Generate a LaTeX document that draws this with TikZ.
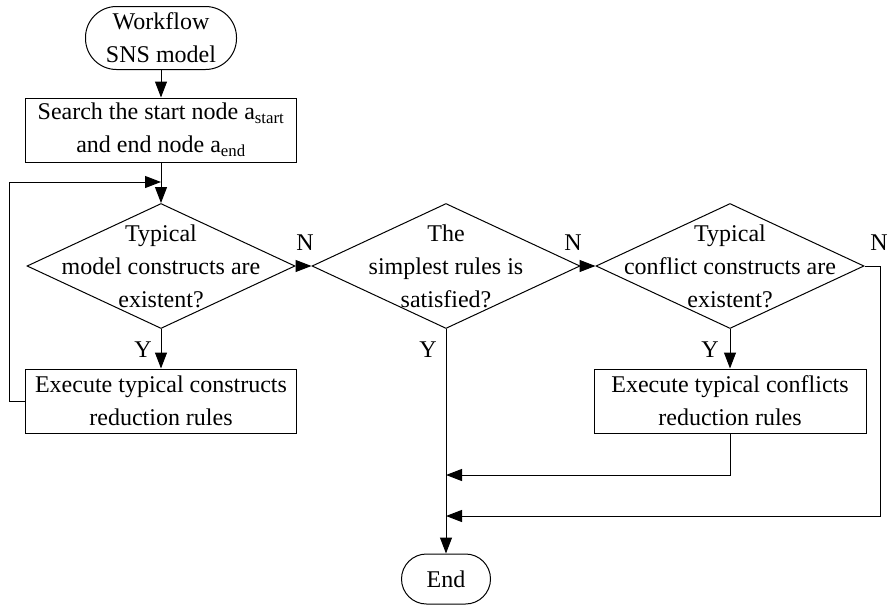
\documentclass[tikz,border=0pt]{standalone}
\usepackage{fontspec}
\setmainfont{Liberation Serif}
\usetikzlibrary{shapes.geometric,arrows.meta}
\begin{document}
\begin{tikzpicture}[x=1pt,y=-1pt,
  font=\fontsize{24}{33}\selectfont,
  line width=1pt,
  box/.style={draw, minimum width=271pt, minimum height=64pt, align=center, inner sep=0pt},
  term/.style={draw, align=center, inner sep=0pt},
  dia/.style={draw, diamond, minimum width=268pt, minimum height=125pt, inner sep=0pt},
  txt/.style={align=center, inner sep=0pt},
  arr/.style={-{Triangle[length=16pt,width=12pt]}},
  lbl/.style={inner sep=0pt}]
\useasboundingbox (0,0) rectangle (888,605);

\node[term, minimum width=151pt, minimum height=63pt, rounded corners=31pt] (start) at (161,38) {Workflow\\SNS model};
\node[box] (b1) at (161,130) {Search the start node a\textsubscript{start}\\and end node a\textsubscript{end}};
\node[dia] (d1) at (161,266) {};
\node[txt] (t1) at (161,266) {Typical\\model constructs are\\existent?};
\node[box] (b2) at (161,401) {Execute typical constructs\\reduction rules};

\node[dia] (d2) at (446,266) {};
\node[txt] (t2) at (446,266) {The\\simplest rules is\\satisfied?};

\node[dia] (d3) at (730,266) {};
\node[txt] (t3) at (730,266) {Typical\\conflict constructs are\\existent?};
\node[box, minimum width=272pt] (b3) at (730,401) {Execute typical conflicts\\reduction rules};

\node[term, minimum width=89pt, minimum height=50pt, rounded corners=25pt] (end) at (446,579) {End};

\coordinate (loopin) at (161,182);
\coordinate (j1) at (446,475);
\coordinate (j2) at (446,516);

\draw[arr] (start) -- (b1);
\draw[arr] (b1) -- (d1);
\draw[arr] (b2.west) -- ++(-16,0) |- (loopin);
\draw[arr] (d1) -- (b2);
\draw[arr] (d1) -- (d2);
\draw[arr] (d2) -- (d3);
\draw[arr] (d3) -- (b3);
\draw[arr] (d2) -- (end);
\draw[arr] (b3) |- (j1);
\draw[arr] (d3.east) -- ++(16,0) |- (j2);

\node[lbl] (ly1) at (143,350) {Y};
\node[lbl] (ly2) at (428,350) {Y};
\node[lbl] (ly3) at (710,350) {Y};
\node[lbl] (ln1) at (305,243) {N};
\node[lbl] (ln2) at (573,243) {N};
\node[lbl] (ln3) at (879,243) {N};
\end{tikzpicture}
\end{document}
